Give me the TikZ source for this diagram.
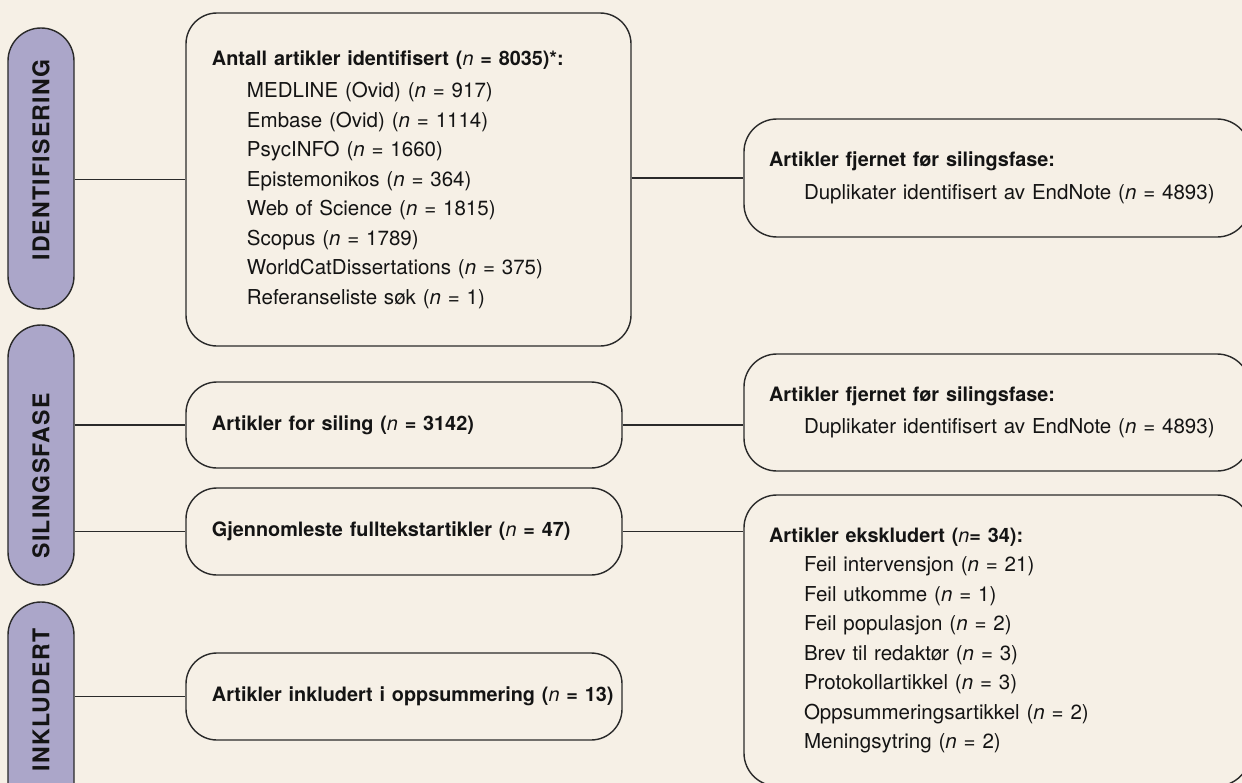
\documentclass[tikz,border=0pt]{standalone}
\usepackage{fontspec}
\setmainfont{TeX Gyre Heros}
\newfontfamily\phasefamily[LetterSpace=5.5]{TeX Gyre Heros}
\usepackage{tikz}
\definecolor{bgcream}{HTML}{F6F0E6}
\definecolor{pilllilac}{HTML}{ABA6C9}
\definecolor{linegray}{HTML}{2A2A2A}
\definecolor{textblack}{HTML}{141414}
\newcommand{\ncount}{{\mdseries\itshape n}}
\newcommand{\boxfont}{\fontsize{14.6pt}{21pt}\selectfont}
\newcommand{\head}[1]{{\bfseries\fontsize{14.1pt}{21pt}\selectfont #1}}
\newcommand{\phasefont}{\phasefamily\bfseries\fontsize{16.4pt}{18pt}\selectfont}
\newcommand{\ind}{\hspace*{8.75mm}}

\begin{document}
\begin{tikzpicture}[x=0.25mm, y=-0.25mm, line width=1pt,
    phase/.style = {draw=linegray, fill=pilllilac, rounded corners=8.25mm, minimum width=16.5mm, inner sep=0pt},
    phasetext/.style = {rotate=90, text=textblack, font=\phasefont, inner sep=0pt},
    box/.style = {draw=linegray, rounded corners=7.75mm, align=left, inner xsep=6.5mm, inner ysep=0pt,
        font=\boxfont, text=textblack},
    sidebox/.style = {box, rounded corners=8.25mm, inner xsep=6.25mm, text width=114mm},
    link/.style = {draw=linegray, line width=0.9pt}]
    % Canvas
    \path[use as bounding box, fill=bgcream] (0, 0) rectangle (1242, 783);
    \clip (0, 0) rectangle (1242, 783);

    % Phases
    \node[phase, minimum height=70.25mm] (idpill) at (41, 168.5) {};
    \node[phase, minimum height=65mm] (silpill) at (41, 455) {};
    \node[phase, minimum height=54.5mm] (inkpill) at (41, 711) {};
    \node[phasetext] (idtext) at (41, 160) {IDENTIFISERING};
    \node[phasetext] (siltext) at (41, 476) {SILINGSFASE};
    \node[phasetext] (inktext) at (41, 700) {INKLUDERT};

    % Flow
    \node[box, text width=98.25mm, minimum height=83.25mm] (search) at (408.5, 179.5) {%
        \head{Antall artikler identifisert (\ncount{} = 8035)*:}\\[0.75mm]
        \ind MEDLINE (Ovid) (\ncount{} = 917)\\
        \ind Embase (Ovid) (\ncount{} = 1114)\\
        \ind PsycINFO (\ncount{} = 1660)\\
        \ind Epistemonikos (\ncount{} = 364)\\
        \ind Web of Science (\ncount{} = 1815)\\
        \ind Scopus (\ncount{} = 1789)\\
        \ind WorldCatDissertations (\ncount{} = 375)\\
        \ind Referanseliste søk (\ncount{} = 1)};
    \node[box, text width=96mm, minimum height=21.5mm] (screen) at (404, 425)
        {\head{Artikler for siling (\ncount{} = 3142)}};
    \node[box, text width=96mm, minimum height=21.75mm] (fulltext) at (404, 531.5)
        {\head{Gjennomleste fulltekstartikler (\ncount{} = 47)}};
    \node[box, text width=96mm, minimum height=21.75mm] (included) at (404, 696.5)
        {\mbox{\head{Artikler inkludert i oppsummering (\ncount{} = 13)}}};

    % Removed
    \node[sidebox, minimum height=29.5mm] (dupone) at (997, 178) {%
        \head{Artikler fjernet før silingsfase:}\\[0.75mm]
        \ind Duplikater identifisert av EndNote (\ncount{} = 4893)};
    \node[sidebox, minimum height=29.25mm] (duptwo) at (997, 412.5) {%
        \head{Artikler fjernet før silingsfase:}\\[0.75mm]
        \ind Duplikater identifisert av EndNote (\ncount{} = 4893)};
    \node[sidebox, minimum height=72.75mm] (excluded) at (997, 640.5) {%
        \head{Artikler ekskludert (\ncount{}= 34):}\\
        \ind Feil intervensjon (\ncount{} = 21)\\
        \ind Feil utkomme (\ncount{} = 1)\\
        \ind Feil populasjon (\ncount{} = 2)\\
        \ind Brev til redaktør (\ncount{} = 3)\\
        \ind Protokollartikkel (\ncount{} = 3)\\
        \ind Oppsummeringsartikkel (\ncount{} = 2)\\
        \ind Meningsytring (\ncount{} = 2)};

    % Links
    \draw[link] (search.west -| idpill.east) -- (search.west);
    \draw[link] (screen.west -| silpill.east) -- (screen.west);
    \draw[link] (fulltext.west -| silpill.east) -- (fulltext.west);
    \draw[link] (included.west -| inkpill.east) -- (included.west);
    \draw[link] (dupone.west -| search.east) -- (dupone.west);
    \draw[link] (screen.east) -- (screen.east -| duptwo.west);
    \draw[link] (fulltext.east) -- (fulltext.east -| excluded.west);
\end{tikzpicture}
\end{document}
